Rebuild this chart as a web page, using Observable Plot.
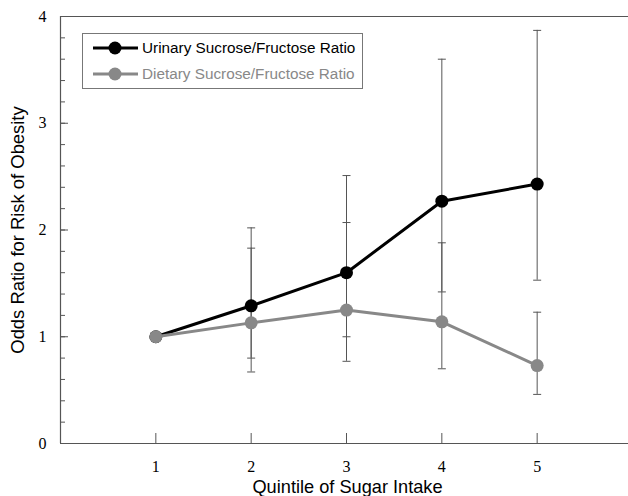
<!DOCTYPE html>
<html><head><meta charset="utf-8">
<script src="https://cdn.jsdelivr.net/npm/d3@7"></script>
<script src="https://cdn.jsdelivr.net/npm/@observablehq/plot@0.6"></script>
<style>
body{margin:0;background:#fff;}
#wrap{position:relative;width:628px;height:496px;}
#legend{position:absolute;left:82px;top:33px;width:281px;height:56px;border:1px solid #777;background:#fff;font-family:"Liberation Sans",Arial,sans-serif;font-size:15.3px;box-sizing:border-box;}
.row{position:absolute;left:9px;height:20px;display:flex;align-items:center;}
.row svg{margin-right:3px;}
</style></head><body>
<div id="wrap"></div>
<script>
const quintiles = [1, 2, 3, 4, 5];
const urinaryOR = [1.00, 1.29, 1.60, 2.27, 2.43];
const urinaryLo = [null, 0.80, 1.00, 1.42, 1.53];
const urinaryHi = [null, 2.02, 2.51, 3.60, 3.87];
const dietaryOR = [1.00, 1.13, 1.25, 1.14, 0.73];
const dietaryLo = [null, 0.67, 0.77, 0.70, 0.46];
const dietaryHi = [null, 1.83, 2.07, 1.88, 1.23];
const seriesNames = ["Urinary Sucrose/Fructose Ratio", "Dietary Sucrose/Fructose Ratio"];
const seriesColors = ["#000000", "#888888"];
const xTicks = [1, 2, 3, 4, 5];
const yTicks = [0, 1, 2, 3, 4];
const yMinorTicks = d3.range(0, 4.001, 0.2).map(v => +v.toFixed(1));

const urinary = quintiles.map((q, i) => ({q, or: urinaryOR[i], lo: urinaryLo[i], hi: urinaryHi[i], s: seriesNames[0]}));
const dietary = quintiles.map((q, i) => ({q, or: dietaryOR[i], lo: dietaryLo[i], hi: dietaryHi[i], s: seriesNames[1]}));
const bars = [...urinary, ...dietary].filter(d => d.lo != null);
const caps = bars.flatMap(d => [{q: d.q, v: d.lo}, {q: d.q, v: d.hi}]);

const hcap = {draw(ctx, size) { const w = 4; ctx.moveTo(-w, 0); ctx.lineTo(w, 0); }};
const axisColor = "#555";
const serif = "Liberation Serif, Times New Roman, serif";

const chart = Plot.plot({
  width: 628, height: 496,
  marginLeft: 60, marginTop: 16, marginBottom: 53, marginRight: 0,
  x: {domain: [0, 6], range: [60, 632]},
  y: {domain: [0, 4]},
  style: {fontFamily: "Liberation Sans, Arial, sans-serif", background: "#fff"},
  marks: [
    Plot.ruleY([0, 4], {stroke: axisColor, strokeWidth: 1.2}),
    Plot.ruleX([0], {stroke: axisColor, strokeWidth: 1.2}),
    Plot.axisY(yMinorTicks, {tickSize: -5, text: null, stroke: axisColor, label: null}),
    Plot.axisY(yTicks, {tickSize: -8, tickPadding: 22, tickFormat: "d", stroke: axisColor, fontFamily: serif, fontSize: 16, fill: "#000", label: null}),
    Plot.axisX(xTicks, {tickSize: -10, tickPadding: 27, tickFormat: "d", stroke: axisColor, fontFamily: serif, fontSize: 16, fill: "#000", label: null}),
    Plot.text(["Quintile of Sugar Intake"], {frameAnchor: "bottom", dy: 44, dx: 3, fontSize: 18.2, fill: "#000", lineAnchor: "middle"}),
    Plot.text(["Odds Ratio for Risk of Obesity"], {frameAnchor: "left", dx: -42, rotate: -90, textAnchor: "middle", fontSize: 18.4, fill: "#000"}),
    Plot.ruleX(bars, {x: "q", y1: "lo", y2: "hi", stroke: "#555", strokeWidth: 1}),
    Plot.dot(caps, {x: "q", y: "v", symbol: hcap, stroke: "#555", strokeWidth: 1, r: 4}),
    Plot.line(urinary, {x: "q", y: "or", stroke: seriesColors[0], strokeWidth: 3}),
    Plot.dot(urinary, {x: "q", y: "or", fill: seriesColors[0], r: 6.5}),
    Plot.line(dietary, {x: "q", y: "or", stroke: seriesColors[1], strokeWidth: 3}),
    Plot.dot(dietary, {x: "q", y: "or", fill: seriesColors[1], r: 6.5})
  ]
});
const wrap = document.getElementById("wrap");
wrap.appendChild(chart);

const legend = document.createElement("div");
legend.id = "legend";
seriesNames.forEach((name, i) => {
  const row = document.createElement("div");
  row.className = "row";
  row.style.top = (4 + i * 26) + "px";
  row.innerHTML = `<svg width="47" height="20"><line x1="1" y1="10" x2="46" y2="10" stroke="${seriesColors[i]}" stroke-width="3"/><circle cx="23" cy="10" r="6.5" fill="${seriesColors[i]}"/></svg><span style="color:${seriesColors[i]}">${name}</span>`;
  legend.appendChild(row);
});
wrap.appendChild(legend);
</script>
</body></html>
